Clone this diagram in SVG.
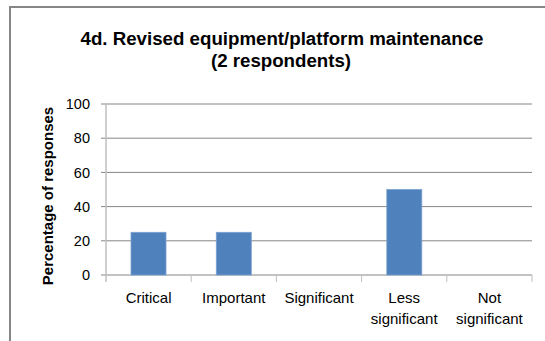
<svg xmlns="http://www.w3.org/2000/svg" width="545" height="341" viewBox="0 0 545 341">
  <style>
    .frame { fill: #ffffff; stroke: #868686; stroke-width: 2; }
    .grid { stroke: #868686; stroke-width: 1; }
    .axis { stroke: #bfbfbf; stroke-width: 1.5; }
    .tick { stroke: #bfbfbf; stroke-width: 1; }
    .bar { fill: #4f81bd; stroke: #7ba0d0; stroke-width: 0.8; }
    .title { font-family: "Liberation Sans", Arial, sans-serif; font-weight: bold; font-size: 18.7px; fill: #000; text-anchor: middle; }
    .ytitle { font-family: "Liberation Sans", Arial, sans-serif; font-weight: bold; font-size: 15px; fill: #000; text-anchor: middle; }
    .ylab { font-family: "Liberation Sans", Arial, sans-serif; font-size: 14.5px; fill: #000; text-anchor: end; }
    .xlab { font-family: "Liberation Sans", Arial, sans-serif; font-size: 15px; fill: #000; text-anchor: middle; }
  </style>

  <rect width="545" height="341" fill="#ffffff"/>
  <!-- chart frame (right and bottom edges run past the visible area) -->
  <rect class="frame" x="10" y="7" width="560" height="360"/>

  <!-- title -->
  <text class="title" x="282" y="45">4d. Revised equipment/platform maintenance</text>
  <text class="title" x="281" y="67">(2 respondents)</text>

  <!-- value axis title -->
  <text class="ytitle" transform="translate(53,196) rotate(-90)">Percentage of responses</text>

  <!-- gridlines -->
  <g id="gridlines">
    <line class="grid" x1="101" y1="104" x2="532" y2="104"/>
    <line class="grid" x1="101" y1="138.2" x2="532" y2="138.2"/>
    <line class="grid" x1="101" y1="172.4" x2="532" y2="172.4"/>
    <line class="grid" x1="101" y1="206.6" x2="532" y2="206.6"/>
    <line class="grid" x1="101" y1="240.8" x2="532" y2="240.8"/>
    <line class="grid" x1="101" y1="275" x2="532" y2="275"/>
  </g>

  <!-- value axis labels -->
  <g id="y-labels">
    <text class="ylab" x="90" y="109">100</text>
    <text class="ylab" x="90" y="143.3">80</text>
    <text class="ylab" x="90" y="177.5">60</text>
    <text class="ylab" x="90" y="211.7">40</text>
    <text class="ylab" x="90" y="245.9">20</text>
    <text class="ylab" x="90" y="280.1">0</text>
  </g>

  <!-- bars -->
  <g id="bar-critical"><rect class="bar" x="131" y="232.3" width="35" height="42.7"/></g>
  <g id="bar-important"><rect class="bar" x="216.3" y="232.3" width="35" height="42.7"/></g>
  <g id="bar-less-significant"><rect class="bar" x="386.8" y="189.5" width="35" height="85.5"/></g>

  <!-- axes and category ticks -->
  <g id="axes">
    <line class="axis" x1="106" y1="104" x2="106" y2="282"/>
    <line class="tick" x1="191.2" y1="275" x2="191.2" y2="282"/>
    <line class="tick" x1="276.4" y1="275" x2="276.4" y2="282"/>
    <line class="tick" x1="361.6" y1="275" x2="361.6" y2="282"/>
    <line class="tick" x1="446.8" y1="275" x2="446.8" y2="282"/>
    <line class="tick" x1="532" y1="275" x2="532" y2="282"/>
  </g>

  <!-- category labels -->
  <g id="x-labels">
    <text class="xlab" x="148.6" y="303">Critical</text>
    <text class="xlab" x="233.8" y="303">Important</text>
    <text class="xlab" x="319" y="303">Significant</text>
    <text class="xlab" x="404.2" y="303">Less</text>
    <text class="xlab" x="404.2" y="324">significant</text>
    <text class="xlab" x="489.4" y="303">Not</text>
    <text class="xlab" x="489.4" y="324">significant</text>
  </g>
</svg>
